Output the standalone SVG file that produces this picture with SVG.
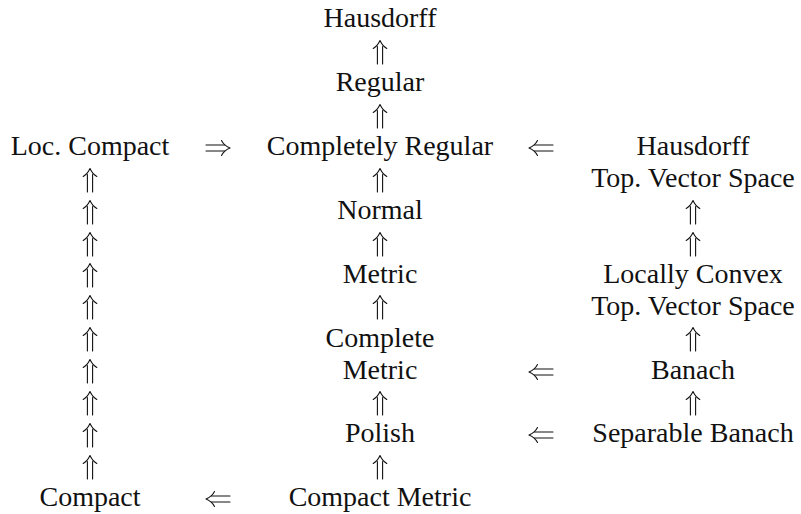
<svg xmlns="http://www.w3.org/2000/svg" xmlns:xlink="http://www.w3.org/1999/xlink" width="801" height="514" viewBox="0 0 801 514">
<style>
text{font-family:"Liberation Serif","Times New Roman",serif;font-size:28px;fill:#111;text-anchor:middle}
.ar{fill:none;stroke:#111;stroke-width:1.1;stroke-linecap:round;stroke-linejoin:round}
</style>
<defs>
<g id="up" class="ar">
<path d="M-2.6,5V-12.5M2.6,5V-12.5"/>
<path d="M-6.8,-10.5Q-2.5,-13 0,-18.5Q2.5,-13 6.8,-10.5"/>
</g>
<g id="right" class="ar">
<path d="M-12,-3H6.5M-12,3H6.5"/>
<path d="M3.5,-7.5Q6,-2.5 12,0Q6,2.5 3.5,7.5"/>
</g>
<g id="left" class="ar">
<path d="M12,-3H-6.5M12,3H-6.5"/>
<path d="M-3.5,-7.5Q-6,-2.5 -12,0Q-6,2.5 -3.5,7.5"/>
</g>
</defs>
<rect width="801" height="514" fill="#fff"/>
<g id="nodes">
<g id="hausdorff"><text x="380" y="27">Hausdorff</text></g>
<g id="regular"><text x="380" y="91">Regular</text></g>
<g id="completely-regular"><text x="380" y="155">Completely Regular</text></g>
<g id="normal"><text x="380" y="219">Normal</text></g>
<g id="metric"><text x="380" y="283">Metric</text></g>
<g id="complete-metric"><text x="380" y="347">Complete</text><text x="380" y="379">Metric</text></g>
<g id="polish"><text x="380" y="442">Polish</text></g>
<g id="compact-metric"><text x="380" y="506">Compact Metric</text></g>
<g id="loc-compact"><text x="90" y="155">Loc. Compact</text></g>
<g id="compact"><text x="90" y="506">Compact</text></g>
<g id="hausdorff-tvs"><text x="693" y="155">Hausdorff</text><text x="693" y="187">Top. Vector Space</text></g>
<g id="locally-convex-tvs"><text x="693" y="283">Locally Convex</text><text x="693" y="315">Top. Vector Space</text></g>
<g id="banach"><text x="693" y="379">Banach</text></g>
<g id="separable-banach"><text x="693" y="442">Separable Banach</text></g>
</g>
<g id="connectors">
<use xlink:href="#up" x="380" y="59"/>
<use xlink:href="#up" x="380" y="123"/>
<use xlink:href="#up" x="380" y="187"/>
<use xlink:href="#up" x="380" y="251"/>
<use xlink:href="#up" x="380" y="314"/>
<use xlink:href="#up" x="380" y="410"/>
<use xlink:href="#up" x="380" y="474"/>
<use xlink:href="#up" x="90" y="187"/>
<use xlink:href="#up" x="90" y="219"/>
<use xlink:href="#up" x="90" y="251"/>
<use xlink:href="#up" x="90" y="282"/>
<use xlink:href="#up" x="90" y="314"/>
<use xlink:href="#up" x="90" y="346"/>
<use xlink:href="#up" x="90" y="378"/>
<use xlink:href="#up" x="90" y="410"/>
<use xlink:href="#up" x="90" y="442"/>
<use xlink:href="#up" x="90" y="474"/>
<use xlink:href="#up" x="693" y="219"/>
<use xlink:href="#up" x="693" y="251"/>
<use xlink:href="#up" x="693" y="346"/>
<use xlink:href="#up" x="693" y="410"/>
<use xlink:href="#right" x="218" y="148"/>
<use xlink:href="#left" x="541" y="148"/>
<use xlink:href="#left" x="541" y="372"/>
<use xlink:href="#left" x="541" y="435"/>
<use xlink:href="#left" x="218" y="499"/>
</g>
</svg>
